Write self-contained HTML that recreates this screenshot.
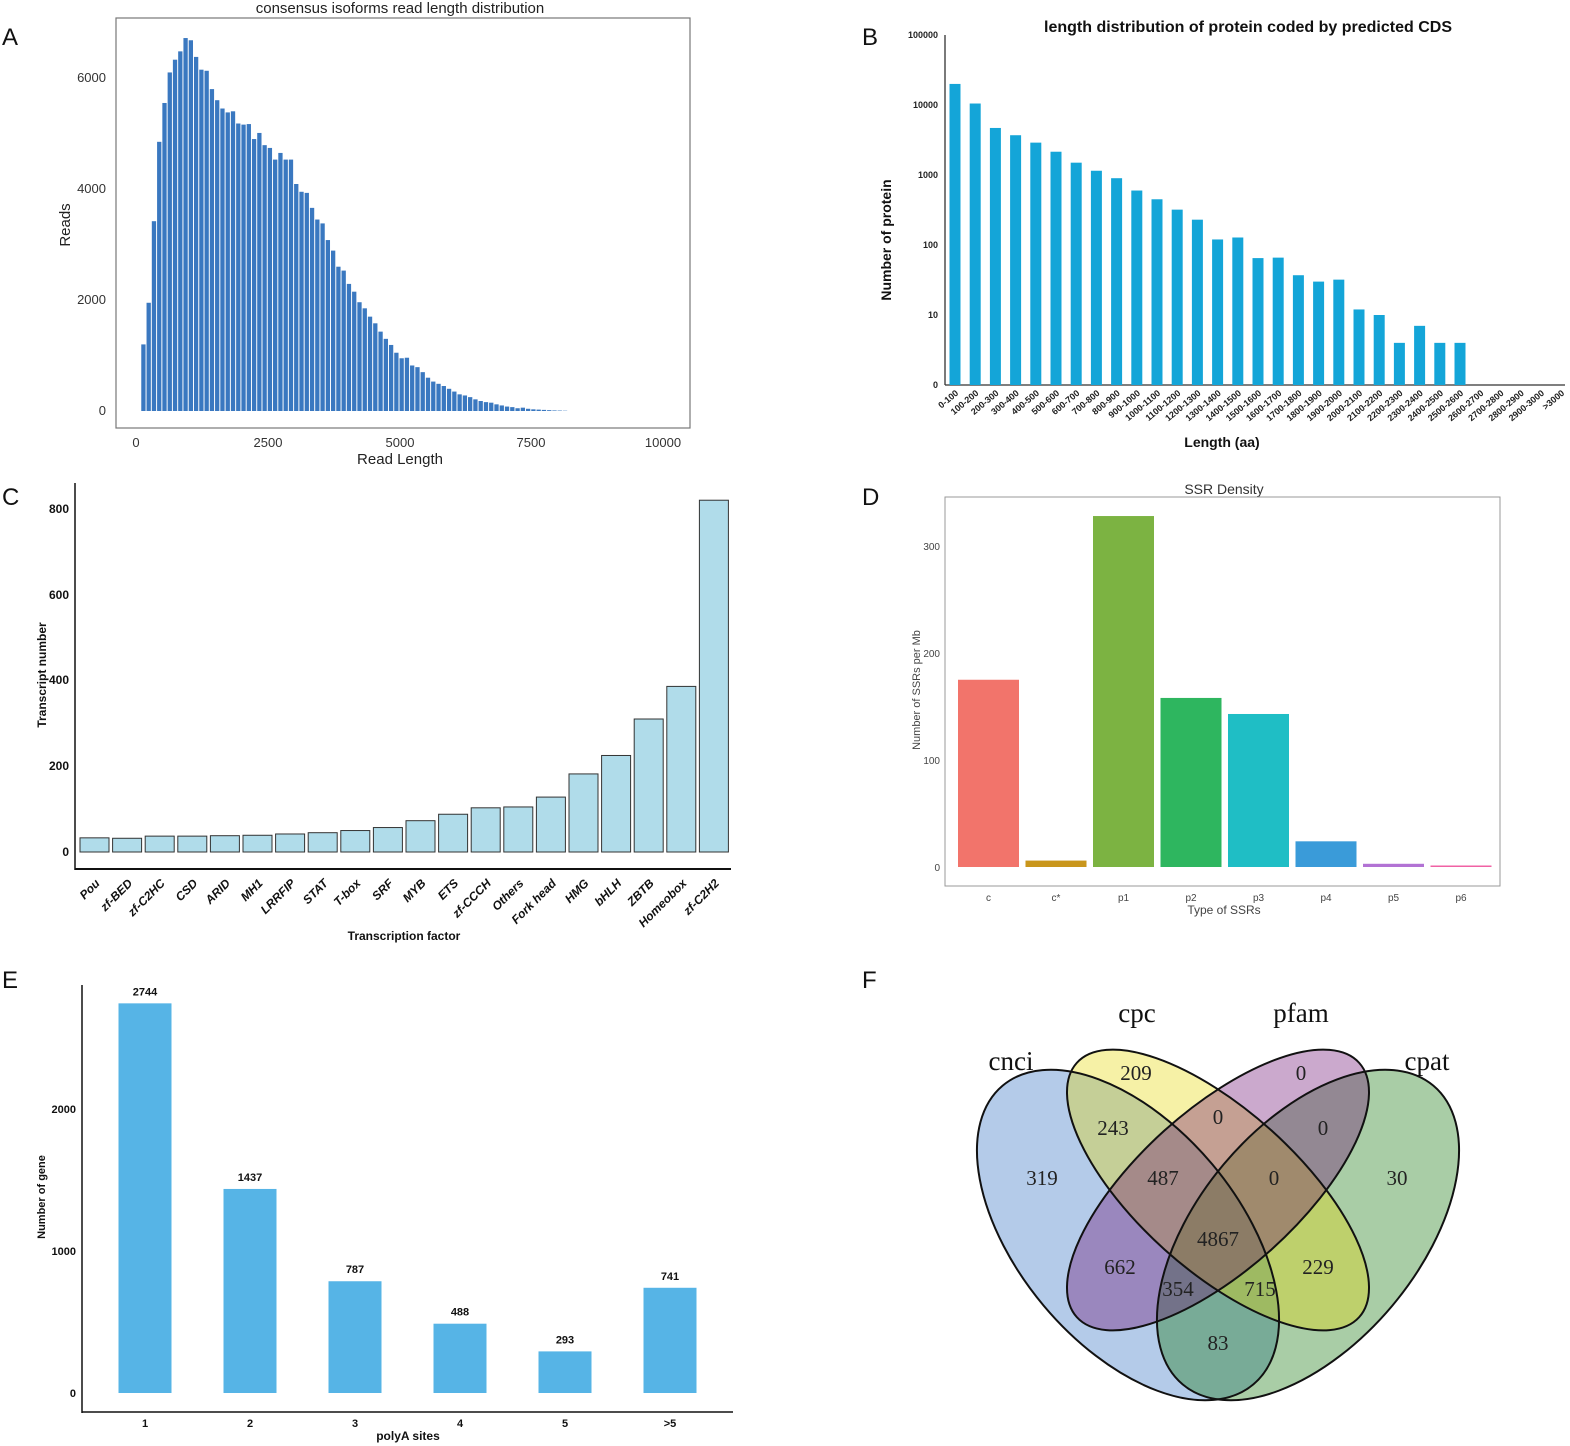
<!DOCTYPE html>
<html><head><meta charset="utf-8"><style>
body{margin:0;background:#fff}
svg{display:block;font-family:"Liberation Sans",sans-serif}
</style></head><body>
<svg id="s" xmlns="http://www.w3.org/2000/svg" width="1570" height="1446" viewBox="0 0 1570 1446">
<rect width="1570" height="1446" fill="#fff"/>
<g font-size="24" fill="#111">
<text x="2" y="45">A</text><text x="862" y="45">B</text>
<text x="2" y="505">C</text><text x="862" y="505">D</text>
<text x="2" y="988">E</text><text x="862" y="988">F</text>
</g>
<!-- Panel A -->
<rect x="116" y="18" width="574" height="410" fill="none" stroke="#777" stroke-width="1.2"/>
<text x="400" y="13" font-size="15" text-anchor="middle" fill="#222">consensus isoforms read length distribution</text>
<g id="aBars" fill="#3a78c0"></g>
<g font-size="13" fill="#333" text-anchor="end">
<text x="106" y="415">0</text><text x="106" y="304">2000</text><text x="106" y="193">4000</text><text x="106" y="82">6000</text>
</g>
<g font-size="13" fill="#333" text-anchor="middle">
<text x="136" y="447">0</text><text x="268" y="447">2500</text><text x="400" y="447">5000</text><text x="531" y="447">7500</text><text x="663" y="447">10000</text>
</g>
<text x="400" y="464" font-size="15" text-anchor="middle" fill="#222">Read Length</text>
<text transform="translate(70,225) rotate(-90)" font-size="15" text-anchor="middle" fill="#222">Reads</text>
<!-- Panel B -->
<text x="1248" y="32" font-size="16" font-weight="bold" text-anchor="middle" fill="#111">length distribution of protein coded by predicted CDS</text>
<line x1="945" y1="35" x2="945" y2="385" stroke="#333" stroke-width="1.3"/>
<line x1="945" y1="385" x2="1565" y2="385" stroke="#333" stroke-width="1.3"/>
<g id="bBars" fill="#14a5d8"></g>
<g font-size="9" font-weight="bold" fill="#222" text-anchor="end">
<text x="938" y="388">0</text><text x="938" y="318">10</text><text x="938" y="248">100</text><text x="938" y="178">1000</text><text x="938" y="108">10000</text><text x="938" y="38">100000</text>
</g>
<g id="bLab" font-size="9" font-weight="bold" fill="#222" text-anchor="end"></g>
<text x="1222" y="447" font-size="14" font-weight="bold" text-anchor="middle" fill="#111">Length (aa)</text>
<text transform="translate(891,240) rotate(-90)" font-size="14" font-weight="bold" text-anchor="middle" fill="#111">Number of protein</text>
<!-- Panel C -->
<line x1="75" y1="483" x2="75" y2="870" stroke="#111" stroke-width="1.5"/>
<line x1="75" y1="869" x2="731" y2="869" stroke="#111" stroke-width="2"/>
<g id="cBars" fill="#b0dcea" stroke="#333" stroke-width="1"></g>
<g font-size="12" font-weight="bold" fill="#111" text-anchor="end">
<text x="69" y="856">0</text><text x="69" y="770">200</text><text x="69" y="684">400</text><text x="69" y="599">600</text><text x="69" y="513">800</text>
</g>
<g id="cLab" font-size="12" font-weight="bold" font-style="italic" fill="#111" text-anchor="end"></g>
<text x="404" y="940" font-size="12" font-weight="bold" text-anchor="middle" fill="#111">Transcription factor</text>
<text transform="translate(46,675) rotate(-90)" font-size="12" font-weight="bold" text-anchor="middle" fill="#111">Transcript number</text>
<!-- Panel D -->
<text x="1224" y="494" font-size="14" text-anchor="middle" fill="#333">SSR Density</text>
<rect x="945" y="497" width="555" height="389" fill="none" stroke="#999" stroke-width="1"/>
<g id="dBars"></g>
<g font-size="10" fill="#444" text-anchor="end">
<text x="940" y="871">0</text><text x="940" y="764">100</text><text x="940" y="657">200</text><text x="940" y="550">300</text>
</g>
<g id="dLab" font-size="10" fill="#444" text-anchor="middle"></g>
<text x="1224" y="914" font-size="12" text-anchor="middle" fill="#444">Type of SSRs</text>
<text transform="translate(920,690) rotate(-90)" font-size="11" text-anchor="middle" fill="#444">Number of SSRs per Mb</text>
<!-- Panel E -->
<line x1="82" y1="985" x2="82" y2="1413" stroke="#111" stroke-width="1.5"/>
<line x1="82" y1="1412" x2="733" y2="1412" stroke="#111" stroke-width="1.5"/>
<g id="eBars" fill="#56b4e6"></g>
<g font-size="11" font-weight="bold" fill="#111" text-anchor="end">
<text x="76" y="1397">0</text><text x="76" y="1255">1000</text><text x="76" y="1113">2000</text>
</g>
<g id="eLab" font-size="11" font-weight="bold" fill="#111" text-anchor="middle"></g>
<text x="408" y="1440" font-size="12" font-weight="bold" text-anchor="middle" fill="#111">polyA sites</text>
<text transform="translate(45,1197) rotate(-90)" font-size="11" font-weight="bold" text-anchor="middle" fill="#111">Number of gene</text>
<!-- Panel F -->
<g stroke="none" fill-opacity="0.35">
<ellipse cx="1128" cy="1235" rx="195" ry="110" transform="rotate(50 1128 1235)" fill="#286abf"/>
<ellipse cx="1308" cy="1235" rx="195" ry="110" transform="rotate(-50 1308 1235)" fill="#0a7000"/>
<ellipse cx="1218" cy="1190" rx="190" ry="80" transform="rotate(42 1218 1190)" fill="#e6d600"/>
<ellipse cx="1218" cy="1190" rx="190" ry="80" transform="rotate(-42 1218 1190)" fill="#6a0a70"/>
</g>
<g stroke="#111" stroke-width="2" fill="none">
<ellipse cx="1128" cy="1235" rx="195" ry="110" transform="rotate(50 1128 1235)"/>
<ellipse cx="1308" cy="1235" rx="195" ry="110" transform="rotate(-50 1308 1235)"/>
<ellipse cx="1218" cy="1190" rx="190" ry="80" transform="rotate(42 1218 1190)"/>
<ellipse cx="1218" cy="1190" rx="190" ry="80" transform="rotate(-42 1218 1190)"/>
</g>
<g font-family="Liberation Serif,serif" font-size="21" fill="#222" text-anchor="middle">
<text x="1136" y="1080">209</text><text x="1301" y="1080">0</text>
<text x="1218" y="1124">0</text><text x="1113" y="1135">243</text><text x="1323" y="1135">0</text>
<text x="1042" y="1185">319</text><text x="1163" y="1185">487</text><text x="1274" y="1185">0</text><text x="1397" y="1185">30</text>
<text x="1218" y="1246">4867</text>
<text x="1120" y="1274">662</text><text x="1318" y="1274">229</text>
<text x="1178" y="1296">354</text><text x="1260" y="1296">715</text>
<text x="1218" y="1350">83</text>
</g>
<g font-family="Liberation Serif,serif" font-size="27" fill="#111" text-anchor="middle">
<text x="1011" y="1070">cnci</text><text x="1137" y="1022">cpc</text><text x="1301" y="1022">pfam</text><text x="1427" y="1070">cpat</text>
</g>
</svg>
<script>
var NS="http://www.w3.org/2000/svg";
function el(p,t,a,txt){var e=document.createElementNS(NS,t);for(var k in a)e.setAttribute(k,a[k]);if(txt!==undefined)e.textContent=txt;document.getElementById(p).appendChild(e);return e;}
var av=[1200,1950,3420,4850,5550,6100,6330,6480,6720,6680,6380,6150,6130,5800,5600,5450,5380,5400,5180,5160,5170,4900,5010,4790,4740,4530,4650,4530,4530,4090,3950,3930,3660,3450,3380,3080,2890,2600,2530,2290,2150,1960,1850,1700,1580,1430,1300,1190,1050,950,960,820,790,700,600,530,490,450,400,350,300,280,250,210,180,160,150,120,100,80,70,50,60,40,30,25,20,15,10,8,5];
for(var i=0;i<av.length;i++){var x0=136+(100+i*100)*0.0527;var h=av[i]*0.0555;el("aBars","rect",{x:x0.toFixed(2),y:(411-h).toFixed(2),width:4.3,height:h.toFixed(2)});}
var bv=[20000,10500,4700,3700,2900,2150,1500,1150,900,600,450,320,230,120,128,65,66,37,30,32,12,10,4,7,4,4,0,0,0,0,0];
var bl=["0-100","100-200","200-300","300-400","400-500","500-600","600-700","700-800","800-900","900-1000","1000-1100","1100-1200","1200-1300","1300-1400","1400-1500","1500-1600","1600-1700","1700-1800","1800-1900","1900-2000","2000-2100","2100-2200","2200-2300","2300-2400","2400-2500","2500-2600","2600-2700","2700-2800","2800-2900","2900-3000",">3000"];
for(var i=0;i<31;i++){var cx=955+i*20.2;if(bv[i]>0){var h=70*Math.log10(bv[i]);el("bBars","rect",{x:cx-5.5,y:385-h,width:11,height:h});}
el("bLab","text",{x:cx+4,y:394,transform:"rotate(-40 "+(cx+4)+" 394)"},bl[i]);}
var cv=[33,32,37,37,38,39,42,45,50,57,73,88,103,105,128,182,225,310,386,820];
var cl=["Pou","zf-BED","zf-C2HC","CSD","ARID","MH1","LRRFIP","STAT","T-box","SRF","MYB","ETS","zf-CCCH","Others","Fork head","HMG","bHLH","ZBTB","Homeobox","zf-C2H2"];
for(var i=0;i<20;i++){var cx=94.5+i*32.6;var h=cv[i]*0.429;el("cBars","rect",{x:cx-14.5,y:852-h,width:29,height:h});
el("cLab","text",{x:cx+6,y:884,transform:"rotate(-45 "+(cx+6)+" 884)"},cl[i]);}
var dv=[175,6,328,158,143,24,3,1],dl=["c","c*","p1","p2","p3","p4","p5","p6"],dc=["#f2746b","#c9961c","#7cb342","#2eb65f","#1fbec5","#3a9bd9","#b272d4","#f062a4"];
for(var i=0;i<8;i++){var x0=958+i*67.5;var h=Math.max(dv[i]*1.07,1.5);el("dBars","rect",{x:x0,y:867-h,width:61,height:h,fill:dc[i]});el("dLab","text",{x:x0+30.5,y:901},dl[i]);}
var ev=[2744,1437,787,488,293,741],el_=["1","2","3","4","5",">5"];
for(var i=0;i<6;i++){var cx=145+i*105;var h=ev[i]*0.142;el("eBars","rect",{x:cx-26.5,y:1393-h,width:53,height:h});el("eLab","text",{x:cx,y:1393-h-8},String(ev[i]));el("eLab","text",{x:cx,y:1427},el_[i]);}
</script>
</body></html>
